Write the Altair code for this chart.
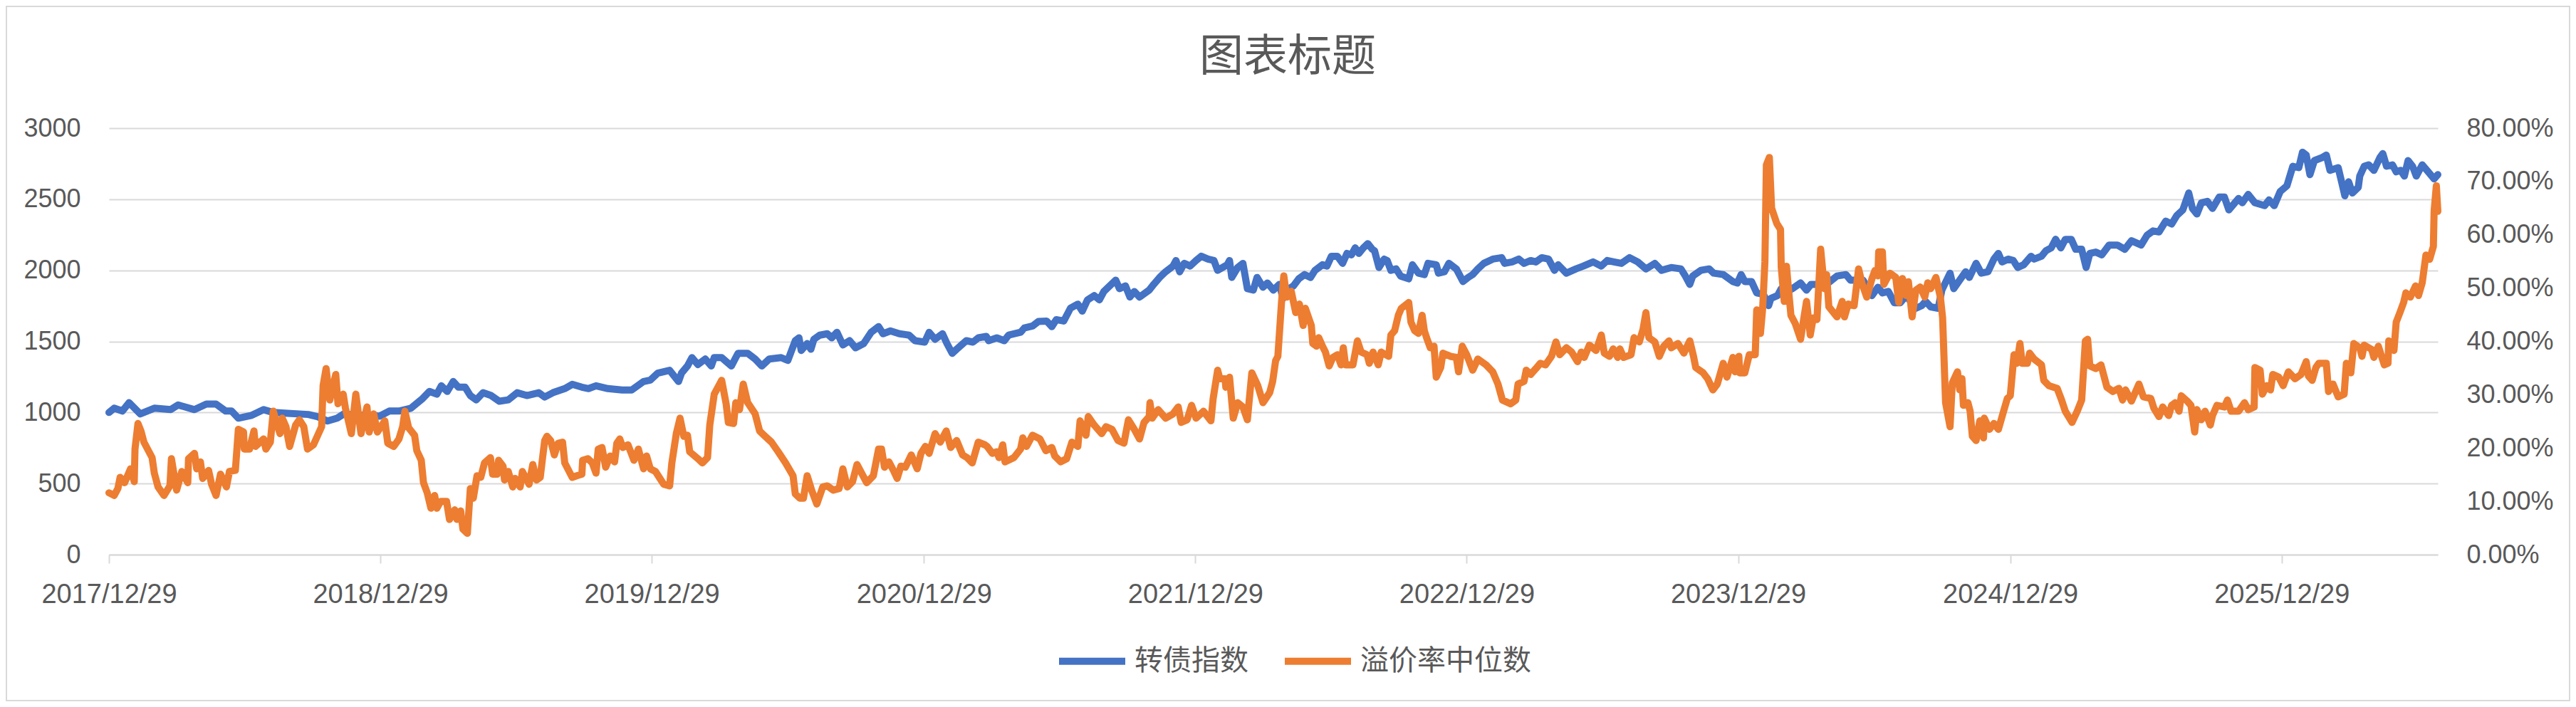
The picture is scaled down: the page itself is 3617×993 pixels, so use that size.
import altair as alt
import pandas as pd

# ---------------- data ----------------
start_date = "2017-12-29"
series_names = ["转债指数", "溢价率中位数"]
series_colors = ["#4472C4", "#ED7D31"]
tick_years = [2017, 2018, 2019, 2020, 2021, 2022, 2023, 2024, 2025]
left_ticks = [0, 500, 1000, 1500, 2000, 2500, 3000]
right_ticks = [0, 10, 20, 30, 40, 50, 60, 70, 80]

# 转债指数: (days after 2017/12/29, value)
blue_day = [0, 7, 18, 27, 42, 61, 83, 93, 115, 131, 144, 157, 165, 174, 192, 208, 221, 240, 268, 281, 294, 307, 316, 332, 348, 364, 377,
            390, 406, 422, 431, 441, 447, 455, 463, 470, 479, 486, 494, 503, 514, 525, 537, 549, 562, 578, 586, 597, 613, 623, 636, 645, 655, 671, 690, 703, 719, 728, 738, 754, 766, 770, 778, 784,
            792, 802, 810, 814, 824, 837, 846, 859, 869, 878, 888, 904, 913, 923, 928, 931, 939, 944, 948, 956, 966, 972, 979, 987, 996, 1004, 1015, 1025, 1035, 1041, 1051, 1063, 1076, 1084, 1097, 1103, 1111, 1121, 1127, 1134, 1140, 1153, 1162, 1169, 1180,
            1183, 1194, 1204, 1210, 1226, 1231, 1242, 1250, 1261, 1268, 1274, 1284, 1293, 1303, 1309, 1316, 1325, 1332, 1338, 1348, 1354, 1359, 1367, 1373, 1379, 1386, 1399, 1405, 1413, 1421, 1431, 1435, 1440, 1446, 1454, 1462, 1469, 1478, 1486, 1491, 1504, 1507, 1510, 1518, 1525, 1531, 1539, 1544, 1552, 1558, 1566, 1574,
            1579, 1587, 1593, 1600, 1608, 1616, 1622, 1632, 1638, 1644, 1652, 1659, 1665, 1671, 1676, 1681, 1687, 1693, 1699, 1702, 1708, 1715, 1719, 1724, 1731, 1737, 1748, 1753, 1761, 1769, 1774, 1785, 1788, 1796, 1802, 1812, 1821, 1828, 1834, 1841, 1849, 1861, 1873, 1877, 1887, 1896, 1903, 1912, 1919, 1927, 1936, 1944, 1949, 1960,
            1973, 1983, 1996, 2007, 2015, 2024, 2034, 2045, 2056, 2067, 2079, 2088, 2101, 2114, 2120, 2126, 2130, 2141, 2152, 2158, 2171, 2184, 2190, 2195, 2200, 2209, 2216, 2225, 2232, 2235, 2244, 2249, 2257, 2264, 2275, 2283, 2289, 2302, 2312, 2324, 2336, 2342, 2353,
            2359, 2371, 2379, 2385, 2393, 2401, 2409, 2417, 2430, 2438, 2443, 2450, 2460, 2465, 2476, 2481, 2489, 2497, 2502, 2511, 2518, 2527, 2535, 2541, 2546, 2554, 2561, 2567, 2575, 2585, 2589, 2599, 2605, 2612, 2618, 2625, 2631, 2639, 2645, 2653, 2659, 2664, 2672, 2680, 2690, 2701, 2711, 2720, 2733, 2741, 2749,
            2757, 2766, 2774, 2781, 2789, 2797, 2802, 2808, 2814, 2822, 2829, 2838, 2845, 2851, 2864, 2869, 2877, 2886, 2899, 2905, 2912, 2920, 2929, 2937, 2945, 2950, 2955, 2960, 2966, 2976, 2982, 2987, 2998, 3003, 3007, 3012, 3017, 3025, 3027, 3033, 3039, 3046, 3054, 3058, 3063, 3071, 3076, 3082, 3087, 3092, 3098, 3103, 3111, 3119, 3127, 3132]
blue_val = [1000, 1030, 1010, 1069, 990, 1030, 1020, 1053, 1020, 1059, 1059, 1010, 1010, 960, 980, 1020, 1000, 994, 986, 970, 940, 960, 990, 980, 980, 974, 1010,
            1010, 1030, 1099, 1148, 1129, 1188, 1148, 1218, 1178, 1178, 1119, 1089, 1139, 1119, 1079, 1089, 1139, 1119, 1139, 1109, 1139, 1168, 1198, 1178, 1168, 1188, 1168, 1158, 1158, 1218, 1228, 1277, 1297, 1218, 1277, 1327, 1386,
            1337, 1376, 1327, 1386, 1386, 1327, 1416, 1416, 1376, 1327, 1376, 1386, 1366, 1505, 1525, 1436, 1485, 1445, 1515, 1544, 1554, 1525, 1564, 1475, 1505, 1455, 1485, 1564, 1604, 1554, 1574, 1554, 1544, 1505, 1495, 1564, 1515, 1554, 1485, 1416, 1445, 1505, 1495, 1525, 1535,
            1505, 1525, 1505, 1544, 1564, 1594, 1608, 1640, 1643, 1604, 1653, 1643, 1733, 1762, 1713, 1792, 1822, 1792, 1851, 1901, 1931, 1871, 1891, 1812, 1851, 1812, 1861, 1901, 1950, 1990, 2030, 2069, 1990, 2049, 2030, 2069, 2099, 2079, 2069, 2000, 2039, 2069, 1950, 2020, 2049, 1871, 1861, 1950, 1881, 1911, 1861, 1901,
            1802, 1871, 1891, 1940, 1970, 1950, 2000, 2039, 2030, 2099, 2099, 2049, 2119, 2109, 2158, 2119, 2158, 2188, 2148, 2138, 2020, 2079, 2069, 2000, 2010, 1960, 1940, 2039, 1980, 1970, 2049, 2039, 1980, 1990, 2049, 2010, 1921, 1950, 1970, 2010, 2049, 2079, 2089, 2049, 2059, 2079, 2049, 2069, 2059, 2089, 2079, 2000, 2039, 1980,
            2010, 2030, 2059, 2030, 2069, 2059, 2049, 2089, 2059, 2010, 2049, 2000, 2020, 2010, 1960, 1901, 1960, 2000, 2010, 1980, 1970, 1921, 1911, 1970, 1921, 1921, 1841, 1831, 1752, 1802, 1822, 1871, 1851, 1871, 1911, 1861, 1901, 1901, 1911, 1960, 1970, 1931, 1931,
            1931, 1822, 1881, 1841, 1851, 1772, 1772, 1822, 1733, 1752, 1782, 1743, 1733, 1861, 1980, 1871, 1931, 1990, 1950, 2049, 1980, 1990, 2079, 2119, 2059, 2079, 2069, 2020, 2039, 2099, 2079, 2099, 2138, 2158, 2218, 2158, 2218, 2218, 2148, 2148, 2020, 2119, 2128, 2109, 2178, 2178, 2148, 2208, 2178, 2247, 2277,
            2270, 2346, 2326, 2386, 2425, 2544, 2435, 2396, 2475, 2485, 2435, 2515, 2515, 2425, 2505, 2475, 2534, 2475, 2455, 2495, 2455, 2554, 2594, 2732, 2722, 2831, 2811, 2673, 2772, 2792, 2811, 2703, 2722, 2613, 2524, 2623, 2544, 2584, 2663, 2732, 2742, 2703, 2792, 2821, 2732, 2742, 2693, 2703, 2663, 2772, 2732, 2663, 2742, 2693, 2643, 2673]

# 溢价率中位数 (%): (days after 2017/12/29, value)
orange_day = [0, 7, 12, 15, 21, 29, 34, 35, 39, 43, 47, 58, 61, 66, 74, 82, 84, 91, 98, 106, 107, 115, 118, 123, 126, 134, 138, 144, 150, 158, 162, 170, 174, 181, 182, 189, 195, 197, 208, 211, 217, 221, 227, 230, 233, 238, 243, 251, 256, 262, 267, 275, 286, 288, 292, 297, 305, 308, 315, 318, 326, 332, 339, 347, 350, 356, 361, 371, 375, 383,
              390, 395, 398, 403, 411, 414, 420, 423, 428, 433, 438, 441, 446, 454, 458, 465, 468, 473, 476, 482, 486, 490, 495, 500, 505, 513, 516, 522, 524, 530, 532, 537, 543, 546, 553, 556, 565, 570, 575, 580, 583, 586, 589, 594, 599, 604, 610, 613, 623, 629, 636, 637, 644, 650, 655, 658, 663, 668, 674, 680, 683, 687, 691, 698, 706, 712, 719, 723, 728, 735, 741, 746, 754, 757, 763, 768, 773, 778, 781,
              792, 798, 805, 808, 814, 824, 830, 833, 840, 843, 848, 853, 859, 869, 875, 881, 891, 900, 910, 920, 923, 929, 934, 939, 945, 952, 960, 966, 974, 982, 987, 993, 1000, 1006, 1019, 1028, 1035, 1039, 1043, 1049, 1055, 1060, 1065, 1071, 1079, 1087, 1092, 1098, 1103, 1111, 1118, 1126, 1132, 1140, 1148, 1154, 1161, 1169, 1178,
              1181, 1188, 1194, 1197, 1202, 1205, 1217, 1226, 1229, 1234, 1242, 1252, 1260, 1268, 1272, 1280, 1288, 1295, 1303, 1306, 1314, 1317, 1325, 1335, 1341, 1349, 1357, 1365, 1371, 1379, 1386, 1392, 1399, 1400, 1403, 1411, 1421, 1431, 1438, 1442, 1450, 1456, 1462, 1472, 1482, 1485, 1491, 1494, 1501, 1502, 1507, 1512, 1518, 1525, 1531, 1537, 1545, 1552, 1561, 1565, 1569, 1572,
              1577, 1580, 1584, 1590, 1596, 1601, 1606, 1609, 1617, 1619, 1624, 1627, 1632, 1636, 1641, 1646, 1652, 1657, 1660, 1663, 1673, 1679, 1684, 1692, 1695, 1700, 1707, 1711, 1721, 1724, 1729, 1734, 1738, 1748, 1751, 1756, 1761, 1766, 1769, 1772, 1777, 1782, 1785, 1791, 1794, 1804, 1812, 1815, 1820, 1826, 1834, 1841, 1852, 1861, 1868, 1874, 1885, 1892, 1895, 1903, 1906, 1912, 1919, 1925, 1932, 1940, 1946, 1951, 1960,
              1967, 1975, 1980, 1984, 1991, 2000, 2007, 2011, 2018, 2023, 2029, 2032, 2037, 2047, 2051, 2058, 2063, 2067, 2071, 2079, 2085, 2091, 2098, 2101, 2110, 2118, 2126, 2131, 2134, 2144, 2150, 2157, 2163, 2171, 2176, 2184, 2187, 2192, 2193, 2200, 2206, 2214, 2216, 2221, 2224, 2227, 2229, 2233, 2236, 2243, 2248, 2249, 2253, 2256, 2259, 2262, 2268, 2275, 2280, 2283, 2288, 2292, 2297, 2302, 2307, 2310, 2313, 2324, 2331, 2334, 2339, 2347, 2353, 2358,
              2364, 2371, 2375, 2379, 2380, 2385, 2387, 2395, 2403, 2407, 2412, 2417, 2420, 2425, 2430, 2436, 2442, 2446, 2450, 2457, 2463, 2466, 2470, 2476, 2479, 2486, 2489, 2492, 2494, 2500, 2503, 2506, 2511, 2516, 2521, 2522, 2529, 2535, 2541, 2548, 2553, 2557, 2562, 2566, 2570, 2573, 2580, 2583, 2589, 2599, 2602, 2609, 2620, 2626, 2631, 2640, 2647, 2653, 2658, 2661, 2664, 2672, 2679, 2687, 2695, 2703, 2708, 2712, 2720, 2730, 2736,
              2746, 2750, 2757, 2762, 2770, 2774, 2779, 2784, 2787, 2795, 2800, 2805, 2808, 2814, 2819, 2826, 2829, 2835, 2845, 2849, 2854, 2864, 2872, 2877, 2885, 2886, 2893, 2896, 2902, 2907, 2910, 2918, 2924, 2931, 2940, 2948, 2955, 2958, 2963, 2968, 2972, 2982, 2985, 2991, 2998, 3006, 3009, 3015, 3019, 3027, 3030, 3033, 3043, 3046, 3052, 3060, 3065, 3066, 3073, 3076, 3081, 3086, 3089, 3095, 3102, 3106, 3111, 3116, 3121, 3126, 3127, 3130, 3132]
orange_val = [11.6, 11.1, 12.4, 14.5, 13.5, 16.1, 13.7, 19.8, 24.6, 23.2, 21.1, 18.2, 15.3, 12.7, 11.1, 12.9, 18.0, 12.1, 15.6, 13.5, 18.0, 19.0, 16.1, 17.4, 14.3, 15.8, 13.2, 11.1, 15.1, 12.7, 15.6, 15.8, 23.5, 23.0, 19.8, 19.8, 23.2, 20.3, 21.7, 19.8, 21.1, 26.9, 24.0, 22.7, 25.6, 24.0, 20.3, 24.3, 25.3, 24.0, 19.8, 20.6, 24.0, 31.7, 34.9, 29.0, 33.8, 28.3, 30.1, 27.5, 22.7, 30.1, 22.7, 27.7, 23.0, 26.4, 23.0, 25.1, 20.9, 20.3,
              21.7, 24.0, 26.9, 23.8, 22.4, 19.5, 17.7, 13.5, 11.6, 8.7, 11.1, 8.7, 10.0, 10.0, 6.6, 8.4, 6.6, 8.2, 4.8, 4.0, 12.4, 10.6, 14.8, 14.5, 17.2, 18.2, 15.1, 15.1, 17.7, 16.6, 14.0, 15.6, 12.7, 14.3, 12.7, 15.6, 13.2, 16.9, 14.0, 14.5, 18.0, 21.4, 22.2, 21.4, 18.7, 20.9, 21.1, 17.2, 14.5, 14.8, 15.1, 17.7, 18.0, 17.2, 15.3, 19.8, 20.1, 16.4, 18.5, 17.4, 20.9, 21.7, 20.1, 20.6, 17.7, 19.8, 16.1, 18.5, 16.1, 15.6, 14.3, 13.2, 12.9, 17.2, 22.7, 25.6, 22.2, 22.4, 19.3,
              18.0, 17.2, 18.2, 24.3, 30.1, 32.7, 28.3, 24.8, 24.6, 28.5, 27.2, 32.0, 28.5, 26.4, 23.2, 22.4, 21.1, 19.3, 17.2, 14.8, 11.4, 10.6, 10.6, 14.8, 12.1, 9.5, 12.7, 12.9, 12.1, 12.4, 16.1, 12.7, 13.7, 16.9, 13.5, 14.8, 19.8, 19.8, 16.4, 17.4, 15.8, 14.3, 16.6, 16.4, 18.7, 16.1, 19.0, 20.3, 19.0, 22.7, 21.1, 23.2, 20.1, 21.4, 18.7, 18.2, 17.2, 21.1, 20.6,
              20.3, 19.0, 19.3, 18.2, 20.6, 17.4, 18.2, 19.8, 21.9, 20.3, 22.4, 21.7, 19.5, 20.1, 18.5, 17.4, 18.0, 21.1, 20.3, 25.1, 22.4, 25.9, 24.3, 22.7, 24.0, 23.5, 21.4, 20.9, 25.3, 23.5, 21.7, 24.8, 25.9, 28.5, 25.6, 27.2, 25.6, 26.4, 27.7, 24.8, 25.3, 28.0, 25.6, 26.9, 25.1, 29.3, 34.6, 33.0, 33.0, 31.4, 33.3, 25.6, 28.5, 27.7, 25.3, 34.1, 31.7, 28.5, 30.4, 32.5, 36.4, 37.2,
              47.5, 52.3, 48.3, 49.4, 45.4, 47.0, 43.0, 46.2, 43.0, 39.6, 39.1, 40.7, 39.1, 38.0, 35.4, 37.0, 37.5, 35.6, 38.8, 35.6, 35.6, 40.1, 38.0, 37.5, 35.9, 38.0, 35.6, 38.0, 37.2, 41.2, 42.0, 44.9, 46.2, 47.3, 43.6, 42.0, 41.5, 44.9, 42.0, 40.7, 38.8, 39.1, 33.3, 35.1, 37.8, 37.2, 37.0, 34.3, 39.1, 37.5, 34.6, 36.7, 35.6, 34.3, 32.0, 29.0, 28.3, 29.0, 32.0, 32.5, 34.6, 33.8, 34.9, 35.9, 35.6, 37.2, 39.9, 37.5, 38.8,
              38.0, 36.2, 38.0, 37.0, 39.3, 38.3, 41.2, 37.8, 37.2, 38.6, 37.0, 38.6, 37.0, 37.5, 40.7, 39.9, 42.2, 45.4, 40.7, 39.9, 37.2, 39.1, 40.1, 38.8, 39.6, 37.8, 40.1, 37.2, 35.1, 34.1, 33.0, 30.9, 32.0, 35.9, 33.3, 37.0, 34.3, 37.2, 34.1, 34.1, 37.5, 37.5, 45.9, 41.5, 46.2, 54.9, 73.1, 74.5, 65.0, 62.1, 61.0, 53.9, 47.5, 54.1, 49.4, 44.9, 43.3, 40.4, 44.9, 47.5, 41.2, 44.4, 44.1, 57.3, 49.9, 52.5, 46.5, 44.6, 47.5, 44.6, 47.0, 46.7, 53.6, 50.7,
              48.3, 51.8, 53.3, 52.3, 56.8, 56.8, 50.7, 52.8, 52.0, 47.3, 51.8, 48.6, 51.2, 44.6, 49.6, 50.2, 48.3, 51.0, 49.9, 52.0, 48.3, 44.4, 28.5, 24.0, 32.2, 34.3, 30.9, 33.0, 28.0, 28.5, 26.9, 22.2, 21.4, 25.1, 21.9, 25.6, 23.5, 24.6, 23.5, 26.9, 29.3, 29.8, 37.5, 35.9, 39.6, 35.9, 35.9, 37.8, 36.7, 35.6, 32.7, 31.7, 31.2, 29.0, 26.9, 24.8, 26.9, 29.0, 40.1, 40.4, 35.4, 34.9, 35.6, 31.4, 30.6, 31.2, 29.0, 30.9, 28.8, 32.0, 29.6,
              29.3, 27.5, 25.9, 27.7, 26.1, 28.0, 28.5, 26.9, 29.8, 28.8, 28.0, 23.0, 27.2, 25.3, 26.9, 24.3, 26.1, 28.0, 27.7, 29.0, 26.9, 26.9, 28.5, 27.2, 27.7, 35.1, 34.6, 30.1, 31.7, 30.9, 33.8, 33.3, 31.7, 34.3, 33.0, 33.8, 36.2, 33.5, 32.7, 35.1, 35.9, 35.9, 30.6, 32.0, 29.6, 30.1, 35.9, 34.1, 39.6, 38.8, 37.2, 39.3, 38.5, 37.0, 39.1, 35.6, 35.9, 40.1, 38.3, 43.6, 45.4, 47.3, 49.1, 48.3, 50.4, 48.6, 51.0, 56.2, 55.4, 57.8, 64.4, 69.2, 64.4]

# ---------------- build tables ----------------
base = pd.Timestamp(start_date)


def to_dates(days):
    return (base + pd.to_timedelta(days, unit="D")).strftime("%Y-%m-%dT00:00:00")


df_blue = pd.DataFrame({"date": to_dates(blue_day), "value": blue_val, "series": series_names[0]})
df_orange = pd.DataFrame({"date": to_dates(orange_day), "value": orange_val, "series": series_names[1]})

TEXT = "#595959"
GRID = "#D9D9D9"
NUM_FONT = "Liberation Sans"
CJK_FONT = "Noto Sans CJK SC"

x_enc = alt.X(
    "date:T",
    axis=alt.Axis(
        values=[alt.DateTime(year=y, month=12, date=29) for y in tick_years],
        format="%Y/%m/%d",
        title=None,
        grid=False,
        domain=True, domainColor=GRID, domainWidth=2,
        ticks=True, tickColor=GRID, tickWidth=2, tickSize=12,
        labelPadding=25, labelFlush=False, labelOverlap=False, labelAngle=0,
        labelLimit=500,
        labelFont=NUM_FONT, labelFontSize=38, labelColor=TEXT,
    ),
)

color_enc = alt.Color(
    "series:N",
    scale=alt.Scale(domain=series_names, range=series_colors),
    legend=alt.Legend(
        title=None, orient="none", direction="horizontal",
        legendX=1329, legendY=697,
        symbolType="stroke", symbolSize=8649, symbolStrokeWidth=10,
        labelFont=CJK_FONT, labelFontSize=40, labelColor=TEXT,
        labelOffset=8, columnPadding=31, labelLimit=600,
    ),
)

blue = alt.Chart(df_blue).mark_line(strokeWidth=10, strokeCap="round", strokeJoin="round").encode(
    x=x_enc,
    y=alt.Y(
        "value:Q",
        scale=alt.Scale(domain=[0, 3000], nice=False),
        axis=alt.Axis(
            orient="left", values=left_ticks, format="d", title=None,
            grid=True, gridColor=GRID, gridWidth=2,
            domain=False, ticks=False, labelPadding=40, labelLimit=500,
            labelFont=NUM_FONT, labelFontSize=36, labelColor=TEXT,
        ),
    ),
    color=color_enc,
)

orange = alt.Chart(df_orange).mark_line(strokeWidth=10, strokeCap="round", strokeJoin="round").encode(
    x=x_enc,
    y=alt.Y(
        "value:Q",
        scale=alt.Scale(domain=[0, 80], nice=False),
        axis=alt.Axis(
            orient="right", values=right_ticks, title=None,
            labelExpr="format(datum.value, '.2f') + '%'",
            grid=False, domain=False, ticks=False, labelPadding=40, labelLimit=500,
            labelFont=NUM_FONT, labelFontSize=36, labelColor=TEXT,
        ),
    ),
    color=color_enc,
)

frame = alt.Chart(alt.Data(values=[{"f": 1}])).mark_rect(
    fill=None, stroke=GRID, strokeWidth=2
).encode(
    x=alt.value(-144), x2=alt.value(3270 + 185),
    y=alt.value(-171), y2=alt.value(599 + 205),
)

chart = alt.layer(frame, blue, orange).resolve_scale(
    y="independent"
).properties(
    width=3270,
    height=599,
    padding={"left": 145, "top": 172, "right": 186, "bottom": 206},
    autosize=alt.AutoSizeParams(type="none"),
    background="white",
    title=alt.TitleParams(
        "图表标题", font=CJK_FONT, fontSize=62, fontWeight="normal",
        color=TEXT, anchor="middle", baseline="bottom", offset=-167, dx=20,
    ),
).configure_view(stroke=None)

chart.save("out.html", embed_options={"renderer": "svg", "actions": False})
